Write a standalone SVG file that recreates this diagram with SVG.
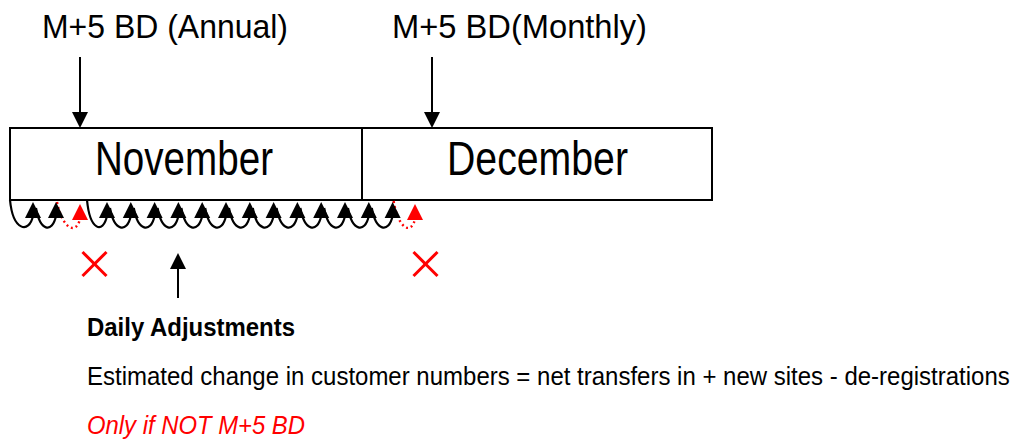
<svg xmlns="http://www.w3.org/2000/svg" width="1015" height="443" viewBox="0 0 1015 443">
  <style>
    text { font-family: "Liberation Sans", Arial, sans-serif; fill: #000; }
    .title { font-size: 34px; }
    .month { font-size: 48px; }
    .note { font-size: 26px; }
    .body { font-size: 24px; }
    .bold { font-weight: bold; }
    .red { fill: #ff0000; font-style: italic; }
    .box { fill: #fff; stroke: #000; stroke-width: 2; }
    .line { fill: none; stroke: #000; stroke-width: 2; }
    .loop { fill: none; stroke: #000; stroke-width: 2.2; }
    .dot { fill: none; stroke: #ff0000; stroke-width: 2.4; stroke-dasharray: 2 3; }
    .cross { stroke: #ff0000; stroke-width: 3; }
    .head { fill: #000; }
    .redhead { fill: #ff0000; }
  </style>
  <defs>
    <polygon id="up" points="0,0 -8,16 8,16"/>
  </defs>

  <!-- month bar -->
  <g id="november">
    <rect class="box" x="10" y="128" width="352" height="72"/>
    <text class="month" x="95" y="175" textLength="178" lengthAdjust="spacingAndGlyphs">November</text>
  </g>
  <g id="december">
    <rect class="box" x="362" y="128" width="350" height="72"/>
    <text class="month" x="447" y="175" textLength="181" lengthAdjust="spacingAndGlyphs">December</text>
  </g>

  <!-- deadline labels -->
  <g id="annual">
    <text class="title" x="42" y="38" textLength="246" lengthAdjust="spacingAndGlyphs">M+5 BD (Annual)</text>
  </g>
  <g id="monthly">
    <text class="title" x="392" y="38" textLength="255" lengthAdjust="spacingAndGlyphs">M+5 BD(Monthly)</text>
  </g>

  <!-- notes -->
  <g id="daily-adjustments">
    <text class="note bold" x="87" y="336" textLength="208" lengthAdjust="spacingAndGlyphs">Daily Adjustments</text>
    <text class="body" transform="translate(87,385) scale(1,1.08)" x="0" y="0">Estimated change in customer numbers = net transfers in + new sites - de-registrations</text>
    <text class="note red" x="87" y="434" textLength="218" lengthAdjust="spacingAndGlyphs">Only if NOT M+5 BD</text>
  </g>

  <!-- skipped days -->
  <g id="skip-annual">
    <line class="cross" x1="82.5" y1="252" x2="106.5" y2="276"/>
    <line class="cross" x1="106.5" y1="252" x2="82.5" y2="276"/>
  </g>
  <g id="skip-monthly">
    <line class="cross" x1="413.5" y1="252" x2="437.5" y2="276"/>
    <line class="cross" x1="437.5" y1="252" x2="413.5" y2="276"/>
  </g>

  <g id="connectors">
    <!-- deadline pointers -->
    <line class="line" x1="80" y1="57" x2="80" y2="116"/>
    <use href="#up" class="head" transform="translate(80,128) rotate(180)"/>
    <line class="line" x1="432" y1="57" x2="432" y2="116"/>
    <use href="#up" class="head" transform="translate(432,128) rotate(180)"/>

    <!-- daily adjustment pointer -->
    <line class="line" x1="178" y1="298" x2="178" y2="266"/>
    <use href="#up" class="head" transform="translate(178,253)"/>

    <!-- daily loops -->
    <path class="loop" d="M10,200 C13,231 29,234 33,216"/>
    <path class="loop" d="M36,208 C40,231 52,234 56,216"/>
    <path class="dot" d="M57,202 C62,228 76,236 80,219"/>
    <path class="loop" d="M87,200 C90,231 103,234 107,216"/>
    <path class="loop" d="M110,208 C114,231 126.8,234 130.8,216"/>
    <path class="loop" d="M133.8,208 C137.8,231 150.6,234 154.6,216"/>
    <path class="loop" d="M157.6,208 C161.6,231 174.4,234 178.4,216"/>
    <path class="loop" d="M181.4,208 C185.4,231 198.2,234 202.2,216"/>
    <path class="loop" d="M205.2,208 C209.2,231 222,234 226,216"/>
    <path class="loop" d="M229,208 C233,231 245.8,234 249.8,216"/>
    <path class="loop" d="M252.8,208 C256.8,231 269.6,234 273.6,216"/>
    <path class="loop" d="M276.6,208 C280.6,231 293.4,234 297.4,216"/>
    <path class="loop" d="M300.4,208 C304.4,231 317.2,234 321.2,216"/>
    <path class="loop" d="M324.2,208 C328.2,231 341,234 345,216"/>
    <path class="loop" d="M348,208 C352,231 364.8,234 368.8,216"/>
    <path class="loop" d="M371.8,208 C375.8,231 388.6,234 392.6,216"/>
    <path class="dot" d="M393.6,201 C398,228 411,236 415,219"/>

    <use href="#up" class="head" transform="translate(33,202)"/>
    <use href="#up" class="head" transform="translate(56,202)"/>
    <use href="#up" class="redhead" transform="translate(80,204)"/>
    <use href="#up" class="head" transform="translate(107,202)"/>
    <use href="#up" class="head" transform="translate(130.8,202)"/>
    <use href="#up" class="head" transform="translate(154.6,202)"/>
    <use href="#up" class="head" transform="translate(178.4,202)"/>
    <use href="#up" class="head" transform="translate(202.2,202)"/>
    <use href="#up" class="head" transform="translate(226,202)"/>
    <use href="#up" class="head" transform="translate(249.8,202)"/>
    <use href="#up" class="head" transform="translate(273.6,202)"/>
    <use href="#up" class="head" transform="translate(297.4,202)"/>
    <use href="#up" class="head" transform="translate(321.2,202)"/>
    <use href="#up" class="head" transform="translate(345,202)"/>
    <use href="#up" class="head" transform="translate(368.8,202)"/>
    <use href="#up" class="head" transform="translate(392.6,202)"/>
    <use href="#up" class="redhead" transform="translate(415,204)"/>
  </g>
</svg>
